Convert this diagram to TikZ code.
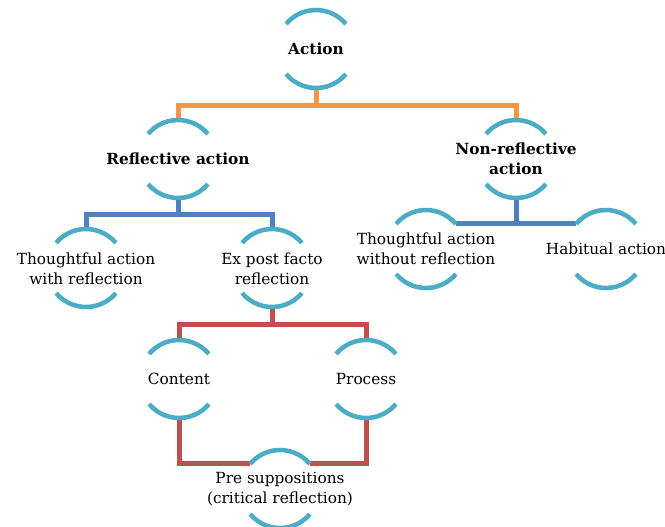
\documentclass[tikz,border=0pt]{standalone}
\usepackage{fontspec}
\setmainfont{DejaVu Serif}
\usetikzlibrary{calc}
\definecolor{ringc}{HTML}{4BACC6}
\definecolor{orangec}{HTML}{F79646}
\definecolor{bluec}{HTML}{4F81BD}
\definecolor{redc}{HTML}{C0504D}
\newcommand\myrings[1]{%
  \draw[arcs] (#1.40) arc[start angle=40,end angle=140,radius=29.25pt];
  \draw[arcs] (#1.220) arc[start angle=220,end angle=320,radius=29.25pt];}
\begin{document}
\begin{tikzpicture}[x=0.75pt,y=0.75pt,
  ring/.style={circle,minimum size=58.5pt,inner sep=0pt,outer sep=0pt},
  lbl/.style={align=center,font=\fontsize{11.5}{15}\selectfont,inner sep=0pt},
  blbl/.style={align=center,font=\fontsize{11.5}{15}\selectfont\bfseries,inner sep=0pt},
  arcs/.style={draw=ringc,line width=3.4pt},
  conn/.style={line width=3.75pt,line join=miter}]
\useasboundingbox (0,0) rectangle (665,-526);
% rings
\node[ring] (act) at (316,-49) {};
\node[ring] (ref) at (178,-159) {};
\node[ring] (non) at (516,-159) {};
\node[ring] (twr) at (86,-268) {};
\node[ring] (epf) at (272,-268) {};
\node[ring] (two) at (426,-249) {};
\node[ring] (hab) at (606,-249) {};
\node[ring] (con) at (179,-379) {};
\node[ring] (pro) at (366,-379) {};
\node[ring] (pre) at (280,-489) {};
% connectors
\coordinate (o1) at (316,-105);
\draw[conn,orangec] (act.south) -- (o1);
\draw[conn,orangec] (ref.north) |- (o1) -| (non.north);
\coordinate (b1) at (178,-214);
\draw[conn,bluec] (ref.south) -- (b1);
\draw[conn,bluec] (twr.north) |- (b1) -| (epf.north);
\draw[conn,bluec] (two.40) -- (hab.140);
\draw[conn,bluec] (non.south) -- (non.south |- two.40);
\coordinate (r1) at (272,-324);
\draw[conn,redc] (epf.south) -- (r1);
\draw[conn,redc] (con.north) |- (r1) -| (pro.north);
\draw[conn,redc] (con.south) |- (pre.140);
\draw[conn,redc] (pro.south) |- (pre.40);
% arcs
\foreach \n in {act,ref,non,twr,epf,two,hab,con,pro,pre}{\myrings{\n}}
% labels
\node[blbl] (lact) at (act) {Action};
\node[blbl] (lref) at (ref) {Reflective action};
\node[blbl] (lnon) at (non) {Non-reflective\\action};
\node[lbl] (ltwr) at ([yshift=-0.75pt]twr) {Thoughtful action\\with reflection};
\node[lbl] (lepf) at ([yshift=-0.75pt]epf) {Ex post facto\\reflection};
\node[lbl] (ltwo) at (two) {Thoughtful action\\without reflection};
\node[lbl] (lhab) at (hab) {Habitual action};
\node[lbl] (lcon) at (con) {Content};
\node[lbl] (lpro) at (pro) {Process};
\node[lbl] (lpre) at (pre) {Pre suppositions\\(critical reflection)};
\end{tikzpicture}
\end{document}
